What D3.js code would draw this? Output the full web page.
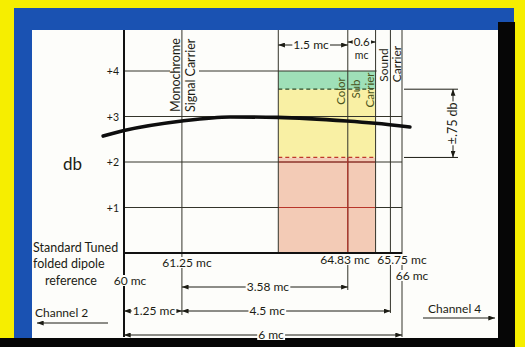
<!DOCTYPE html>
<html><head><meta charset="utf-8">
<script src="https://cdn.jsdelivr.net/npm/d3@7"></script>
<style>html,body{margin:0;padding:0;background:#f6ee00;}svg{display:block}</style>
</head><body>
<svg id="chart" width="525" height="347"></svg>
<script>
// Frequency markers along the channel (mc)
const markerMc = [60, 61.25, 63.33, 64.83, 65.43, 65.75, 66];
// Response scale in db
const dbTicks = [1, 2, 3, 4];
const dbTickLabels = ["+1", "+2", "+3", "+4"];
// Antenna response curve
const responseMc = [59.55, 60, 61.25, 62.29, 63.32, 64.81, 65.42, 66.17];
const responseDb = [2.57, 2.69, 2.90, 2.99, 2.98, 2.90, 2.85, 2.77];
// Colour sub-carrier zone
const bandMc = [63.33, 65.43];
const pinkDb = [0, 2.1];
const yellowDb = [2.1, 3.6];
const greenDb = [3.6, 4.0];
const toleranceDb = [2.1, 3.6];
const toleranceLabel = "\u00b1.75 db";
// Frequency labels under the baseline
const freqLabelMc = [60, 61.25, 64.83, 65.75, 66];
const freqLabels = ["60 mc", "61.25 mc", "64.83 mc", "65.75 mc", "66 mc"];
// Dimension spans (mc)
const topDimFrom = [63.33, 64.83];
const topDimTo = [64.83, 65.43];
const topDimLabels = ["1.5 mc", "0.6"];
const bottomDimFrom = [61.25, 60, 61.25, 60];
const bottomDimTo = [64.83, 61.25, 65.75, 66];
const bottomDimLabels = ["3.58 mc", "1.25 mc", "4.5 mc", "6 mc"];

const svg = d3.select("#chart");
const FONT = "Lato, 'Open Sans', sans-serif";
const INK = "#1c1c14";
const GRID = "#34342a";

// ---- frame ----
svg.append("rect").attr("width", 525).attr("height", 347).attr("fill", "#f6ee00");
svg.append("rect").attr("x", 14).attr("y", 8).attr("width", 500).attr("height", 332).attr("fill", "#1a52b2");
svg.append("rect").attr("x", 498).attr("y", 22).attr("width", 17).attr("height", 325).attr("fill", "#060606");
svg.append("rect").attr("x", 0).attr("y", 338).attr("width", 515).attr("height", 9).attr("fill", "#060606");
svg.append("rect").attr("x", 32).attr("y", 30).attr("width", 466).attr("height", 308).attr("fill", "#fdfdfa");

const x = d3.scaleLinear().domain([60, 66]).range([124, 402]);
const y = d3.scaleLinear().domain([0, 4]).range([253, 71]);
const yTop = 30;

const defs = svg.append("defs");
defs.append("marker").attr("id", "arr").attr("viewBox", "0 0 8 6")
  .attr("refX", 8).attr("refY", 3).attr("markerWidth", 7).attr("markerHeight", 5)
  .attr("markerUnits", "userSpaceOnUse").attr("orient", "auto-start-reverse")
  .append("path").attr("d", "M0,0L8,3L0,6Z").attr("fill", INK);

const gBands = svg.append("g");
const gHGrid = svg.append("g");
const gKnock = svg.append("g");
const gVGrid = svg.append("g");
const gCurve = svg.append("g");
const gText = svg.append("g").attr("font-family", FONT).attr("fill", INK);

// ---- colour zones ----
const band = (lo, hi, fill) => gBands.append("rect")
  .attr("x", x(bandMc[0])).attr("width", x(bandMc[1]) - x(bandMc[0]))
  .attr("y", y(hi)).attr("height", y(lo) - y(hi)).attr("fill", fill);
band(pinkDb[0], pinkDb[1], "#f3cbb6");
band(yellowDb[0], yellowDb[1], "#f9f0a4");
band(greenDb[0], greenDb[1], "#9fe0b8");

// ---- horizontal grid ----
gHGrid.selectAll("line.h").data(dbTicks).join("line")
  .attr("x1", x(60)).attr("x2", x(66)).attr("y1", d => y(d)).attr("y2", d => y(d))
  .attr("stroke", GRID).attr("stroke-width", 1);
gHGrid.selectAll("line.r").data(dbTicks.filter(d => d < pinkDb[1])).join("line")
  .attr("x1", x(bandMc[0])).attr("x2", x(bandMc[1])).attr("y1", d => y(d)).attr("y2", d => y(d))
  .attr("stroke", "#b8352a").attr("stroke-width", 1);

// zone boundaries
gHGrid.append("line").attr("x1", x(bandMc[0])).attr("x2", x(bandMc[1]))
  .attr("y1", y(greenDb[0])).attr("y2", y(greenDb[0]))
  .attr("stroke", "#2e4a26").attr("stroke-width", 1.2).attr("stroke-dasharray", "4,3");
gHGrid.append("line").attr("x1", x(bandMc[0])).attr("x2", x(bandMc[1]))
  .attr("y1", y(pinkDb[1])).attr("y2", y(pinkDb[1]))
  .attr("stroke", "#c0392b").attr("stroke-width", 1.2).attr("stroke-dasharray", "4,3");

// knockouts behind the upright carrier labels
gKnock.append("rect").attr("x", 170).attr("y", 34).attr("width", 29).attr("height", 79).attr("fill", "#fdfdfa");
gKnock.append("rect").attr("x", x(65.43) + 1).attr("y", 40).attr("width", x(66) - x(65.43) - 1).attr("height", 48).attr("fill", "#fdfdfa");

// ---- vertical lines ----
const vBottom = {60: 337, 61.25: 315, 63.33: 253, 64.83: 290, 65.43: 253, 65.75: 313, 66: 337};
gVGrid.selectAll("line.v").data(markerMc).join("line")
  .attr("x1", d => x(d)).attr("x2", d => x(d))
  .attr("y1", yTop).attr("y2", d => vBottom[d])
  .attr("stroke", d => d === 60 ? "#111" : GRID)
  .attr("stroke-width", d => d === 60 ? 2 : 1);
gVGrid.append("line").attr("x1", x(64.83)).attr("x2", x(64.83))
  .attr("y1", y(pinkDb[1])).attr("y2", y(0)).attr("stroke", "#b8352a").attr("stroke-width", 1.2);
// baseline (0 db)
gVGrid.append("line").attr("x1", x(60)).attr("x2", x(66)).attr("y1", y(0)).attr("y2", y(0))
  .attr("stroke", "#111").attr("stroke-width", 2.2);

// ---- response curve ----
const curvePts = responseMc.map((m, i) => [m, responseDb[i]]);
gCurve.append("path").datum(curvePts)
  .attr("d", d3.line().x(d => x(d[0])).y(d => y(d[1])).curve(d3.curveMonotoneX))
  .attr("fill", "none").attr("stroke", "#0e0e0e").attr("stroke-width", 3.6).attr("stroke-linecap", "round");

// ---- text helpers ----
function label(parent, txt, px, py, opts = {}) {
  const g = parent.append("g").attr("transform", `translate(${px},${py})` + (opts.rot ? ` rotate(${opts.rot})` : ""));
  const t = g.append("text").text(txt)
    .attr("font-size", opts.size || 12)
    .attr("text-anchor", opts.anchor || "start")
    .attr("fill", opts.fill || INK);
  if (opts.bg) {
    const b = t.node().getBBox();
    g.insert("rect", "text").attr("x", b.x - 1).attr("y", b.y + 2).attr("width", b.width + 2)
      .attr("height", b.height - 4).attr("fill", "#fdfdfa");
  }
  return g;
}

// y tick labels
dbTicks.forEach((d, i) => label(gText, dbTickLabels[i], 119, y(d) + 4, {anchor: "end", size: 10.5}));
label(gText, "db", 63, 170, {size: 17});

// carrier labels
label(gText, "Monochrome", 180, 112, {rot: -90, size: 12.5});
label(gText, "Signal Carrier", 195, 112, {rot: -90, size: 12.5});
const csFill = "#4a5420";
label(gText, "Color", 345, 91, {rot: -90, size: 11.5, anchor: "middle", fill: csFill});
label(gText, "Sub", 360, 89, {rot: -90, size: 11.5, anchor: "middle", fill: csFill});
label(gText, "Carrier", 374, 90, {rot: -90, size: 11.5, anchor: "middle", fill: csFill});
label(gText, "Sound", 388, 65, {rot: -90, size: 12, anchor: "middle"});
label(gText, "Carrier", 400.5, 64, {rot: -90, size: 12, anchor: "middle"});

// reference antenna note
label(gText, "Standard Tuned", 33, 252, {size: 12.5});
label(gText, "folded dipole", 33, 268, {size: 12.5});
label(gText, "reference", 45, 285, {size: 12.5});

// frequency labels
const freqPos = {60: [130, 285], 61.25: [187, 267], 64.83: [345, 264], 65.75: [402, 264], 66: [412, 280]};
freqLabelMc.forEach((m, i) => label(gText, freqLabels[i], freqPos[m][0], freqPos[m][1], {anchor: "middle", size: 12, bg: true}));

// dimension lines
function dim(m1, m2, py, txt, shift = 0, size = 12) {
  gText.append("line").attr("x1", x(m1)).attr("x2", x(m2)).attr("y1", py).attr("y2", py)
    .attr("stroke", INK).attr("stroke-width", 1)
    .attr("marker-start", "url(#arr)").attr("marker-end", "url(#arr)");
  label(gText, txt, (x(m1) + x(m2)) / 2 + shift, py + 4, {anchor: "middle", size: size, bg: true});
}
dim(topDimFrom[0], topDimTo[0], 45, topDimLabels[0], -2);
dim(topDimFrom[1], topDimTo[1], 42, topDimLabels[1], 0, 11.5);
label(gText, "mc", (x(topDimFrom[1]) + x(topDimTo[1])) / 2, 59, {anchor: "middle", size: 10.5});

const bottomRow = [287, 311, 311, 335];
const bottomShift = [3, 1, -19, 8];
bottomDimLabels.forEach((t, i) => dim(bottomDimFrom[i], bottomDimTo[i], bottomRow[i], t, bottomShift[i]));

// tolerance bracket
const tx = 453;
[toleranceDb[0], toleranceDb[1]].forEach(d => gText.append("line")
  .attr("x1", 404).attr("x2", 458).attr("y1", y(d)).attr("y2", y(d)).attr("stroke", INK).attr("stroke-width", 1));
gText.append("line").attr("x1", tx).attr("x2", tx).attr("y1", y(d3.mean(toleranceDb))).attr("y2", y(toleranceDb[1]))
  .attr("stroke", INK).attr("marker-end", "url(#arr)");
gText.append("line").attr("x1", tx).attr("x2", tx).attr("y1", y(d3.mean(toleranceDb))).attr("y2", y(toleranceDb[0]))
  .attr("stroke", INK).attr("marker-end", "url(#arr)");
label(gText, toleranceLabel, tx + 4, y(d3.mean(toleranceDb)), {rot: -90, anchor: "middle", size: 12.5, bg: true});

// channel neighbours
label(gText, "Channel 2", 35, 317, {size: 12});
gText.append("line").attr("x1", 108).attr("x2", 37).attr("y1", 323).attr("y2", 323)
  .attr("stroke", INK).attr("marker-end", "url(#arr)");
label(gText, "Channel 4", 428, 313, {size: 12});
gText.append("line").attr("x1", 423).attr("x2", 495).attr("y1", 318).attr("y2", 318)
  .attr("stroke", INK).attr("marker-end", "url(#arr)");
</script>
</body></html>
